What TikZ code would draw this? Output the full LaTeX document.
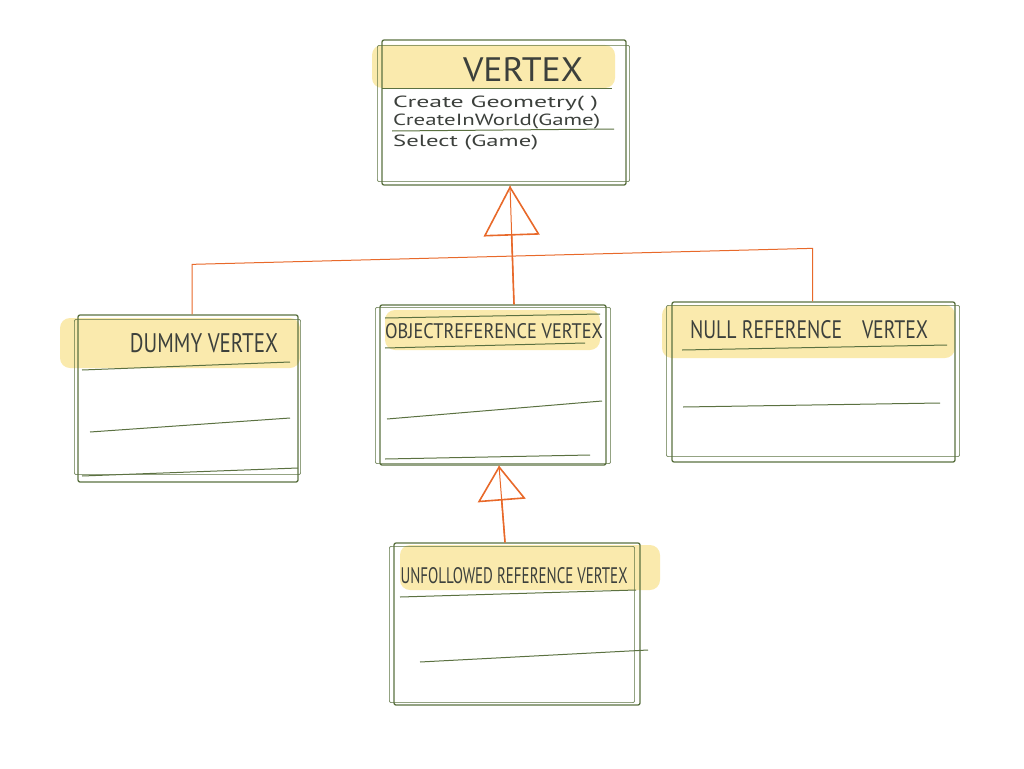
\documentclass[tikz,border=0pt]{standalone}
\usepackage{fontspec}
\setmainfont{PT Sans}
\usetikzlibrary{arrows.meta,calc}
\definecolor{boxg}{HTML}{5B7141}
\definecolor{org}{HTML}{E8692A}
\definecolor{hl}{HTML}{F6D86A}
\definecolor{ink}{HTML}{3C403C}
\begin{document}
\begin{tikzpicture}[x=1pt,y=-1pt,
 cls/.style={draw=boxg, line width=1.3pt, rectangle, inner sep=0pt, rounded corners=2pt},
 sketch/.style={draw=boxg, line width=0.6pt, rounded corners=2pt},
 rule/.style={draw=boxg, line width=1pt},
 hilite/.style={fill=hl, fill opacity=0.55, draw=none, rounded corners=10pt},
 txt/.style={text=ink, inner sep=0pt},
 link/.style={draw=org, line width=1pt},
 inh/.style={draw=org, line width=1.6pt},
 bigtip/.style={inh, -{Triangle[open, length=50pt, width=56pt]}},
 smalltip/.style={inh, -{Triangle[open, length=35pt, width=48pt]}}
]
\useasboundingbox (0,0) rectangle (1024,768);

% highlights
\fill[hilite] (372,45) rectangle (615,88);
\fill[hilite] (60,318) rectangle (300,368);
\fill[hilite] (385,310) rectangle (600,350);
\fill[hilite] (662,305) rectangle (955,358);
\fill[hilite] (400,545) rectangle (660,590);

% class boxes
\node[cls, minimum width=244pt, minimum height=145pt] (vertex) at (504,112.5) {};
\node[cls, minimum width=220pt, minimum height=167pt] (dummy) at (188,398.5) {};
\node[cls, minimum width=226pt, minimum height=160pt] (objref) at (493,385) {};
\node[cls, minimum width=283pt, minimum height=160pt] (nullref) at (813.5,382) {};
\node[cls, minimum width=246pt, minimum height=162pt] (unfol) at (517,624) {};

% sketchy second outlines
\draw[sketch] ($(vertex.north west)+(-4,6)$) rectangle ($(vertex.south east)+(3,-4)$);
\draw[sketch] ($(dummy.north west)+(-3,5)$) rectangle ($(dummy.south east)+(2,-8)$);
\draw[sketch] ($(objref.north west)+(-4,3)$) rectangle ($(objref.south east)+(4,-2)$);
\draw[sketch] ($(nullref.north west)+(-5,4)$) rectangle ($(nullref.south east)+(4,-6)$);
\draw[sketch] ($(unfol.north west)+(-4,4)$) rectangle ($(unfol.south east)+(-6,-3)$);

% compartment rules
\draw[rule] (382,88) -- (612,88);
\draw[rule] (392,131) -- (614,129);
\draw[rule] (82,370) -- (290,362);
\draw[rule] (90,432) -- (290,418);
\draw[rule] (82,476) -- (298,468);
\draw[rule] (385,318) -- (600,314);
\draw[rule] (385,348) -- (585,343);
\draw[rule] (387,419) -- (602,401);
\draw[rule] (385,459) -- (590,455);
\draw[rule] (682,350) -- (947,345);
\draw[rule] (683,407) -- (940,403);
\draw[rule] (400,597) -- (636,590);
\draw[rule] (420,662) -- (648,650);

% texts
\node[txt] (tV) at (523,70) {\resizebox{120pt}{24pt}{VERTEX}};
\node[txt, anchor=base west] (m1) at (393,107) {\resizebox{205pt}{11.5pt}{Create Geometry( )}};
\node[txt, anchor=base west] (m2) at (393,125) {\resizebox{207pt}{11.5pt}{CreateInWorld(Game)}};
\node[txt, anchor=base west] (m3) at (393,146) {\resizebox{145pt}{11.5pt}{Select (Game)}};
\node[txt] (tD) at (204,343) {\resizebox{148pt}{19pt}{DUMMY VERTEX}};
\node[txt] (tO) at (494,331) {\resizebox{218pt}{15pt}{OBJECTREFERENCE VERTEX}};
\node[txt] (tN) at (809,330) {\resizebox{238pt}{18pt}{NULL REFERENCE\quad VERTEX}};
\node[txt] (tU) at (514,576) {\resizebox{227pt}{16pt}{UNFOLLOWED REFERENCE VERTEX}};

% connectors
\coordinate (a1) at ($(objref.north)+(21,0)$);
\coordinate (b1) at ($(vertex.south)+(6,0)$);
\draw[link] (a1) -- (b1);
\draw[bigtip] (a1) -- (b1);
\draw[link] ($(dummy.north)+(4,0)$) -- ++(0,-50) -- ($(nullref.north)+(-1,-53)$) -- ($(nullref.north)+(-1,0)$);
\coordinate (a2) at ($(unfol.north)+(-12,0)$);
\coordinate (b2) at ($(objref.south)+(6,0)$);
\draw[link] (a2) -- (b2);
\draw[smalltip] (a2) -- (b2);
\end{tikzpicture}
\end{document}
